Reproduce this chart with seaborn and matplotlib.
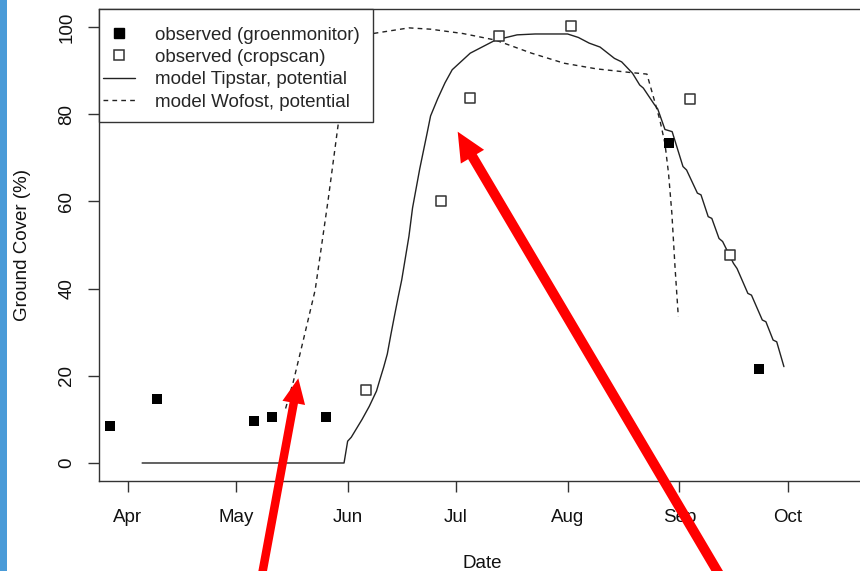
import pandas as pd
import matplotlib
matplotlib.use("Agg")
import matplotlib.pyplot as plt
import matplotlib.dates as mdates
from matplotlib.lines import Line2D
from matplotlib.patches import FancyArrow, Rectangle
from matplotlib.transforms import IdentityTransform
import seaborn as sns

# observed ground cover, groenmonitor (filled squares)
groen_dates = ["2017-03-27", "2017-04-09", "2017-05-06", "2017-05-11",
               "2017-05-26", "2017-08-29", "2017-09-23"]
groen_cover = [8.5, 14.6, 9.7, 10.6, 10.5, 73.3, 21.6]

# observed ground cover, cropscan (open squares)
crop_dates = ["2017-06-06", "2017-06-27", "2017-07-05", "2017-07-13",
              "2017-08-02", "2017-09-04", "2017-09-15"]
crop_cover = [16.7, 60.2, 83.7, 98.0, 100.2, 83.6, 47.7]

# model Tipstar, potential
tip_dates = ["2017-04-05", "2017-05-31", "2017-06-01", "2017-06-02", "2017-06-05",
             "2017-06-07", "2017-06-09", "2017-06-10", "2017-06-11", "2017-06-12",
             "2017-06-13", "2017-06-14", "2017-06-15", "2017-06-16", "2017-06-18",
             "2017-06-19", "2017-06-21", "2017-06-23", "2017-06-24", "2017-06-26",
             "2017-06-28", "2017-06-30", "2017-07-05", "2017-07-12", "2017-07-18",
             "2017-07-23", "2017-08-01", "2017-08-04", "2017-08-07", "2017-08-10",
             "2017-08-14", "2017-08-16", "2017-08-19", "2017-08-21", "2017-08-22",
             "2017-08-25", "2017-08-26", "2017-08-28", "2017-08-30", "2017-09-02",
             "2017-09-03", "2017-09-06", "2017-09-07", "2017-09-09", "2017-09-10",
             "2017-09-12", "2017-09-13", "2017-09-16", "2017-09-17", "2017-09-20",
             "2017-09-21", "2017-09-24", "2017-09-25", "2017-09-27", "2017-09-28",
             "2017-09-30"]
tip_cover = [0, 0, 5.0, 5.9, 10.0,
             13.0, 16.5, 19.3, 22.0, 25.0,
             29.5, 33.8, 38.0, 42.0, 52.0,
             58.5, 67.5, 75.5, 79.6, 83.6,
             87.2, 90.2, 94.0, 97.0, 98.2,
             98.4, 98.4, 97.6, 96.3, 95.4,
             92.8, 92.0, 89.4, 86.7, 86.0,
             82.3, 81.2, 76.5, 76.0, 68.0,
             67.2, 61.9, 61.5, 56.5, 56.1,
             51.5, 50.8, 45.8, 44.6, 38.9,
             38.5, 32.8, 32.4, 28.2, 27.8,
             22.1]

# model Wofost, potential
wof_dates = ["2017-05-14 19:00", "2017-05-16 22:00", "2017-05-19 17:00", "2017-05-23 00:00",
             "2017-05-26 14:00", "2017-05-29 10:00", "2017-06-01 00:00", "2017-06-04 00:00",
             "2017-06-08 00:00", "2017-06-18 00:00", "2017-06-24 00:00", "2017-07-03 00:00",
             "2017-07-12 00:00", "2017-07-22 00:00", "2017-07-31 00:00", "2017-08-09 00:00",
             "2017-08-18 00:00", "2017-08-23 00:00", "2017-08-24 19:00", "2017-08-26 14:00",
             "2017-08-28 00:00", "2017-08-29 00:00", "2017-08-29 22:00", "2017-08-30 19:00",
             "2017-08-31 17:00"]
wof_cover = [12.5, 18.6, 28.2, 39.7, 60.3, 77.9, 90.0, 96.0, 98.5, 99.8,
             99.5, 98.5, 97.0, 94.0, 91.7, 90.4, 89.6, 89.2, 84.0, 78.7,
             73.3, 66.4, 57.3, 45.0, 33.6]

month_ticks = ["2017-04-01", "2017-05-01", "2017-06-01", "2017-07-01",
               "2017-08-01", "2017-09-01", "2017-10-01"]
legend_labels = ["observed (groenmonitor)", "observed (cropscan)",
                 "model Tipstar, potential", "model Wofost, potential"]

groen = pd.DataFrame({"date": pd.to_datetime(groen_dates), "cover": groen_cover})
crop = pd.DataFrame({"date": pd.to_datetime(crop_dates), "cover": crop_cover})
tip = pd.DataFrame({"date": pd.to_datetime(tip_dates), "cover": tip_cover})
wof = pd.DataFrame({"date": pd.to_datetime(wof_dates, format="ISO8601"), "cover": wof_cover})

sns.set_style("ticks")
plt.rcParams['font.family'] = ['Liberation Sans', 'DejaVu Sans']
plt.rcParams['font.size'] = 13.5

fig = plt.figure(figsize=(8.6, 5.71), dpi=100)
ax = fig.add_axes([99 / 860, 90 / 571, 761 / 860, 472 / 571])

line_col = "#222222"
sns.lineplot(data=tip, x="date", y="cover", estimator=None, sort=False,
             color=line_col, lw=1.0, ax=ax)
sns.lineplot(data=wof, x="date", y="cover", estimator=None, sort=False,
             color=line_col, lw=1.0, ax=ax)
ax.lines[-1].set_dashes((3.4, 3))
sns.scatterplot(data=groen, x="date", y="cover", marker="s", color="black",
                s=50, linewidth=0, ax=ax, zorder=3)
sns.scatterplot(data=crop, x="date", y="cover", marker="s", facecolor="white",
                edgecolor="#333333", s=50, linewidth=1.1, ax=ax, zorder=3)

start = pd.Timestamp("2017-04-01")
ax.set_xlim(start - pd.Timedelta(days=7.96), start + pd.Timedelta(days=203.1))
ax.set_ylim(-4.13, 104.13)
ax.set_xticks(pd.to_datetime(month_ticks))
ax.xaxis.set_major_formatter(mdates.DateFormatter("%b"))
ax.set_yticks([0, 20, 40, 60, 80, 100])
ax.tick_params(axis="both", length=8, width=1.0, color="#333333", labelcolor="#111111")
ax.tick_params(axis="x", pad=12)
ax.tick_params(axis="y", pad=9)
plt.setp(ax.get_yticklabels(), rotation=90, va="center")

for side in ["left", "bottom", "top"]:
    ax.spines[side].set_color("#333333")
    ax.spines[side].set_linewidth(1.0)
ax.spines["right"].set_visible(False)

ax.set_xlabel("Date", color="#111111")
ax.set_ylabel("Ground Cover (%)", color="#111111")
ax.xaxis.set_label_coords(0.503, -0.1565)
ax.yaxis.set_label_coords(-0.089, 0.5)

# legend: own frame box, entries placed inside it
ax.add_patch(Rectangle((0, (481 - 122) / 472), (373 - 99) / 761, 113 / 472,
                       transform=ax.transAxes, facecolor="white",
                       edgecolor="#333333", lw=1.0, zorder=4.5, clip_on=False))
handles = [
    Line2D([], [], marker="s", ls="none", color="black", markersize=7),
    Line2D([], [], marker="s", ls="none", mfc="white", mec="#333333", mew=1.1, markersize=7),
    Line2D([], [], color=line_col, lw=1.0),
    Line2D([], [], color=line_col, lw=1.0, dashes=(3.4, 3)),
]
leg = ax.legend(handles, legend_labels, loc="upper left",
                bbox_to_anchor=((103 - 99) / 761, (481 - 26.5) / 472),
                borderaxespad=0, frameon=False, handlelength=1.7, handletextpad=1.07,
                labelspacing=0.28, borderpad=0)
leg.set_zorder(5)

# blue strip at the left edge and the red annotation arrows
fig.add_artist(Rectangle((0, 0), 7, 571, transform=IdentityTransform(),
                         color="#4a9bd8", lw=0))
fig.add_artist(FancyArrow(259, -20, 298.3 - 259, 192.7 + 20, width=8.5,
                          head_width=23, head_length=25, length_includes_head=True,
                          color="#ff0000", lw=0, transform=IdentityTransform()))
fig.add_artist(FancyArrow(729, -20, 457.7 - 729, 439.3 + 20, width=10,
                          head_width=27, head_length=29, length_includes_head=True,
                          color="#ff0000", lw=0, transform=IdentityTransform()))

fig.savefig("out.png", dpi=100)
